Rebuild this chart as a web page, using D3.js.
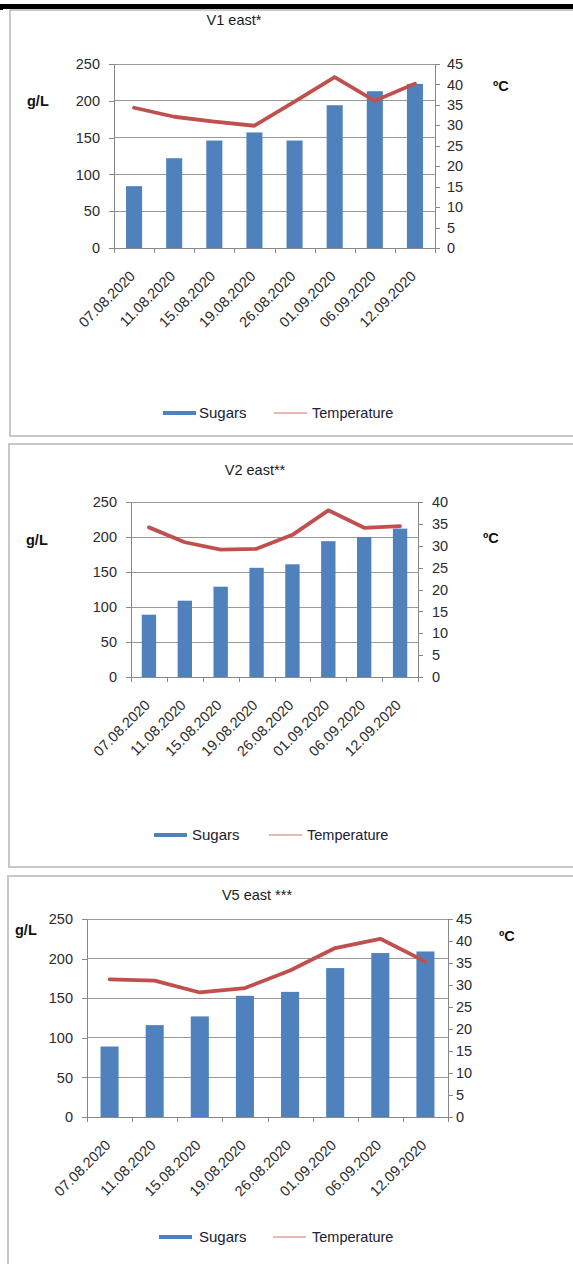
<!DOCTYPE html>
<html>
<head>
<meta charset="utf-8">
<script src="https://cdn.jsdelivr.net/npm/d3@7"></script>
<style>
  html, body { margin: 0; padding: 0; background: #fff; }
  svg { display: block; font-family: "Liberation Sans", Arial, sans-serif; }
</style>
</head>
<body>
<svg id="chart" width="573" height="1264"></svg>
<script>
// Sampling dates shared by all three vineyards
const dates = ["07.08.2020", "11.08.2020", "15.08.2020", "19.08.2020",
               "26.08.2020", "01.09.2020", "06.09.2020", "12.09.2020"];

// Sugar content (g/L) per vineyard
const sugarsV1 = [84, 122, 146, 157, 146, 194, 213, 223];
const sugarsV2 = [89, 109, 129, 156, 161, 194, 200, 212];
const sugarsV5 = [89, 116, 127, 153, 158, 188, 207, 209];

// Temperature (ºC) per vineyard
const tempV1 = [34.3, 32.1, 30.9, 29.9, 35.8, 41.8, 36.0, 40.2];
const tempV2 = [34.2, 30.8, 29.1, 29.3, 32.5, 38.1, 34.1, 34.5];
const tempV5 = [31.3, 31.0, 28.3, 29.3, 33.3, 38.4, 40.5, 35.3];

// Axis ticks
const sugarTicks = [0, 50, 100, 150, 200, 250];
const tempTicks45 = [0, 5, 10, 15, 20, 25, 30, 35, 40, 45];
const tempTicks40 = [0, 5, 10, 15, 20, 25, 30, 35, 40];

const titles = ["V1 east*", "V2 east**", "V5 east ***"];
const seriesNames = ["Sugars", "Temperature"];

// Panel layouts
const panels = [
  { title: titles[0], sugars: sugarsV1, temps: tempV1, tTicks: tempTicks45,
    frame: { x: 10, y: 10, w: 580, h: 426 },
    titleX: 234, titleY: 25,
    left: 114, right: 435, top: 64, bottom: 248, rPad: 7,
    unitL: { x: 27, y: 106 }, unitR: { x: 493, y: 91 },
    legendY: 413, swatch1: 163, text1: 199, swatch2: 274, text2: 312 },
  { title: titles[1], sugars: sugarsV2, temps: tempV2, tTicks: tempTicks40,
    frame: { x: 9, y: 444, w: 580, h: 423 },
    titleX: 255, titleY: 475,
    left: 131, right: 418, top: 502, bottom: 677, rPad: 9,
    unitL: { x: 26, y: 545 }, unitR: { x: 483, y: 543 },
    legendY: 835, swatch1: 154, text1: 192, swatch2: 269, text2: 307 },
  { title: titles[2], sugars: sugarsV5, temps: tempV5, tTicks: tempTicks45,
    frame: { x: 8, y: 876, w: 580, h: 420 },
    titleX: 257, titleY: 900,
    left: 87, right: 448, top: 919, bottom: 1117, rPad: 3,
    unitL: { x: 15, y: 935 }, unitR: { x: 499, y: 941 },
    legendY: 1237, swatch1: 159, text1: 199, swatch2: 273, text2: 312 }
];

const BAR = "#4f81bd";
const LINE = "#c0504d";
const GRID = "#999999";
const AXIS = "#888888";
const TEXT = "#2b2b2b";

const svg = d3.select("#chart");

// Black strip across the top
svg.append("rect").attr("x", 0).attr("y", 4).attr("width", 573).attr("height", 5).attr("fill", "#000");
svg.append("rect").attr("x", 0).attr("y", 9).attr("width", 3).attr("height", 1).attr("fill", "#000");

panels.forEach(p => {
  const g = svg.append("g");

  // Chart frame
  g.append("rect")
    .attr("x", p.frame.x).attr("y", p.frame.y)
    .attr("width", p.frame.w).attr("height", p.frame.h)
    .attr("fill", "#fff").attr("stroke", "#c8c8c8").attr("stroke-width", 2);

  const x = d3.scaleBand().domain(dates).range([p.left, p.right])
    .paddingInner(0.6).paddingOuter(0.3);
  const xEdge = d3.scaleLinear().domain([0, dates.length]).range([p.left, p.right]);
  const yS = d3.scaleLinear().domain([0, 250]).range([p.bottom, p.top]);
  const tMax = p.tTicks[p.tTicks.length - 1];
  const yT = d3.scaleLinear().domain([0, tMax]).range([p.bottom, p.top]);

  // Horizontal gridlines
  g.append("g").selectAll("line").data(sugarTicks.filter(d => d > 0)).join("line")
    .attr("x1", p.left).attr("x2", p.right)
    .attr("y1", d => yS(d)).attr("y2", d => yS(d))
    .attr("stroke", GRID).attr("stroke-width", 1)
    .attr("shape-rendering", "crispEdges");

  // Sugar bars
  g.append("g").selectAll("rect").data(p.sugars).join("rect")
    .attr("x", (d, i) => x(dates[i]))
    .attr("y", d => yS(d))
    .attr("width", x.bandwidth())
    .attr("height", d => yS(0) - yS(d))
    .attr("fill", BAR);

  // Left axis (g/L)
  const axL = g.append("g").attr("transform", `translate(${p.left},0)`)
    .call(d3.axisLeft(yS).tickValues(sugarTicks).tickSize(5).tickSizeOuter(0).tickPadding(9));
  // Right axis (ºC)
  const axR = g.append("g").attr("transform", `translate(${p.right},0)`)
    .call(d3.axisRight(yT).tickValues(p.tTicks).tickSize(5).tickSizeOuter(0).tickPadding(p.rPad));
  // Category axis with ticks between categories
  const axB = g.append("g").attr("transform", `translate(0,${p.bottom})`)
    .call(d3.axisBottom(xEdge).tickValues(d3.range(dates.length + 1)).tickSize(5)
      .tickSizeOuter(0).tickFormat(""));

  [axL, axR, axB].forEach(a => {
    a.select(".domain").attr("stroke", AXIS).attr("shape-rendering", "crispEdges");
    a.selectAll(".tick line").attr("stroke", AXIS).attr("shape-rendering", "crispEdges");
    a.selectAll(".tick text").attr("fill", TEXT).attr("font-size", 14.5)
      .attr("font-family", "Liberation Sans, Arial, sans-serif");
  });

  // Rotated date labels
  g.append("g").selectAll("text").data(dates).join("text")
    .attr("transform", d => `translate(${x(d) + x.bandwidth() / 2 + 2},${p.bottom + 29}) rotate(-45)`)
    .attr("text-anchor", "end")
    .attr("font-size", 14.5).attr("fill", TEXT)
    .text(d => d);

  // Temperature line
  const line = d3.line()
    .x((d, i) => x(dates[i]) + x.bandwidth() / 2)
    .y(d => yT(d));
  g.append("path").datum(p.temps)
    .attr("d", line)
    .attr("fill", "none").attr("stroke", LINE)
    .attr("stroke-width", 3.8).attr("stroke-linejoin", "round").attr("stroke-linecap", "round");

  // Title and axis units
  g.append("text").attr("x", p.titleX).attr("y", p.titleY)
    .attr("text-anchor", "middle").attr("font-size", 14.5).attr("fill", "#1a1a1a")
    .text(p.title);
  g.append("text").attr("x", p.unitL.x).attr("y", p.unitL.y)
    .attr("font-size", 14.5).attr("font-weight", "bold").attr("fill", "#111").text("g/L");
  g.append("text").attr("x", p.unitR.x).attr("y", p.unitR.y)
    .attr("font-size", 14.5).attr("font-weight", "bold").attr("fill", "#111").text("ºC");

  // Legend
  g.append("rect").attr("x", p.swatch1).attr("y", p.legendY - 2)
    .attr("width", 33).attr("height", 4).attr("fill", BAR);
  g.append("text").attr("x", p.text1).attr("y", p.legendY + 5)
    .attr("font-size", 15).attr("fill", "#202030").text(seriesNames[0]);
  g.append("line").attr("x1", p.swatch2).attr("x2", p.swatch2 + 33)
    .attr("y1", p.legendY).attr("y2", p.legendY)
    .attr("stroke", "#e0a0a0").attr("stroke-width", 1.5);
  g.append("text").attr("x", p.text2).attr("y", p.legendY + 5)
    .attr("font-size", 14.5).attr("fill", "#202030").text(seriesNames[1]);
});
</script>
</body>
</html>
